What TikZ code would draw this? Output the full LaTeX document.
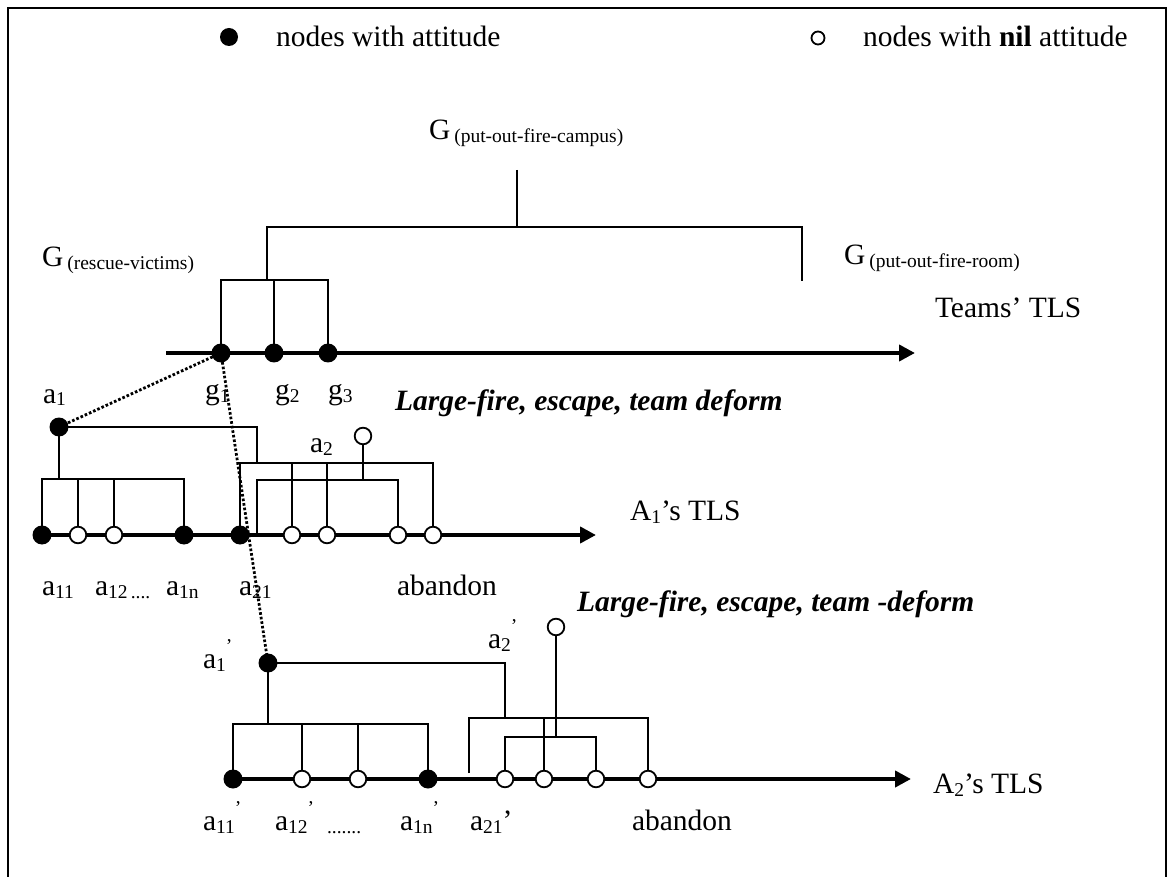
\documentclass[tikz,border=0pt]{standalone}
\usepackage{fontspec}
\setmainfont{Liberation Serif}
\usetikzlibrary{arrows.meta}
\pgfdeclarelayer{bg}
\pgfsetlayers{bg,main}
\newcommand\Sb[1]{\raisebox{-1.5pt}{\fontsize{9.75}{10}\selectfont #1}}
\newcommand\Sp[1]{\raisebox{8pt}{\fontsize{9.75}{10}\selectfont #1}}
\begin{document}
\begin{tikzpicture}[x=0.5pt,y=-0.5pt,font=\fontsize{14.75}{17}\selectfont,
  lbl/.style={anchor=base west,inner sep=0pt,outer sep=0pt},
  fdot/.style={circle,fill=black,inner sep=0pt,minimum size=9.5pt},
  odot/.style={circle,draw=black,fill=white,line width=0.9pt,inner sep=0pt,minimum size=8.3pt},
  tline/.style={line width=0.8pt},
  axis/.style={line width=2pt,-{Triangle[length=8pt,width=8pt]}},
  dotl/.style={line width=1.4pt,dash pattern=on 1.3pt off 1pt},
  emph/.style={lbl,font=\fontsize{14.75}{17}\selectfont\bfseries\itshape}]
\useasboundingbox (0,0) rectangle (1168,877);
\draw[line width=1pt] (8,880) -- (8,8) -- (1166,8) -- (1166,880);

% legend
\node[fdot,minimum size=9pt] (legf) at (229,37) {};
\node[lbl] (legft) at (276,47) {nodes with attitude};
\node[odot,minimum size=6.5pt] (lego) at (818,38) {};
\node[lbl] (legot) at (863,47) {nodes with \textbf{nil} attitude};

% ---------------- Teams' TLS
\node[lbl] (Gc) at (429,140) {G\hspace{2pt}\Sb{(put-out-fire-campus)}};
\node[lbl] (Gr) at (42,267) {G\hspace{2pt}\Sb{(rescue-victims)}};
\node[lbl] (Gf) at (844,265) {G\hspace{2pt}\Sb{(put-out-fire-room)}};
\node[lbl] (teams) at (935,318) {Teams’ TLS};
\coordinate (t0) at (166,353);
\coordinate (t1) at (915,353);
\node[fdot] (g1) at (221,353) {};
\node[fdot] (g2) at (274,353) {};
\node[fdot] (g3) at (328,353) {};
\node[lbl] (g1l) at (205,400) {g\Sb{1}};
\node[lbl] (g2l) at (275,400) {g\Sb{2}};
\node[lbl] (g3l) at (328,400) {g\Sb{3}};
\coordinate (ctop) at (517,170);
\coordinate (cbar) at (517,227);

% ---------------- A1's TLS
\node[emph] (lf1) at (395,410) {Large-fire, escape, team deform};
\node[fdot] (a1) at (59,427) {};
\node[lbl] (a1l) at (43,403) {a\Sb{1}};
\node[odot] (a2) at (363,436) {};
\node[lbl] (a2l) at (310,452) {a\Sb{2}};
\node[lbl] (A1tls) at (630,520) {A\Sb{1}’s TLS};
\coordinate (u0) at (42,535);
\coordinate (u1) at (596,535);
\node[fdot] (a11) at (42,535) {};
\node[odot] (b1) at (78,535) {};
\node[odot] (b2) at (114,535) {};
\node[fdot] (a1n) at (184,535) {};
\node[fdot] (a21) at (240,535) {};
\node[odot] (b3) at (292,535) {};
\node[odot] (b4) at (327,535) {};
\node[odot] (b5) at (398,535) {};
\node[odot] (b6) at (433,535) {};
\node[lbl] (l11) at (42,595) {a\Sb{11}};
\node[lbl] (l12) at (95,595) {a\Sb{12\,....}};
\node[lbl] (l1n) at (166,595) {a\Sb{1n}};
\node[lbl] (l21) at (239,595) {a\Sb{21}};
\node[lbl] (lab1) at (397,595) {abandon};

% ---------------- A2's TLS
\node[emph] (lf2) at (577,611) {Large-fire, escape, team -deform};
\node[fdot] (a1p) at (268,663) {};
\node[lbl] (a1pl) at (203,668) {a\Sb{1}\Sp{’}};
\node[odot] (a2p) at (556,627) {};
\node[lbl] (a2pl) at (488,648) {a\Sb{2}\Sp{’}};
\node[lbl] (A2tls) at (933,793) {A\Sb{2}’s TLS};
\coordinate (v0) at (231,779);
\coordinate (v1) at (911,779);
\node[fdot] (c1) at (233,779) {};
\node[odot] (c2) at (302,779) {};
\node[odot] (c3) at (358,779) {};
\node[fdot] (c4) at (428,779) {};
\node[odot] (c5) at (505,779) {};
\node[odot] (c6) at (544,779) {};
\node[odot] (c7) at (596,779) {};
\node[odot] (c8) at (648,779) {};
\coordinate (stub) at (469,773);
\node[lbl] (m11) at (203,830) {a\Sb{11}\Sp{’}};
\node[lbl] (m12) at (275,830) {a\Sb{12}\Sp{’}};
\node[lbl] (mdots) at (327,830) {\Sb{.......}};
\node[lbl] (m1n) at (400,830) {a\Sb{1n}\Sp{’}};
\node[lbl] (m21) at (470,830) {a\Sb{21}’};
\node[lbl] (lab2) at (632,830) {abandon};

\begin{pgfonlayer}{bg}
  % Teams
  \draw[axis] (t0) -- (t1);
  \draw[tline] (ctop) -- (cbar);
  \draw[tline] (267,280) -- (267,227) -- (802,227) -- (802,281);
  \draw[tline] (g1.center) -- (221,280) -- (328,280) -- (g3.center);
  \draw[tline] (g2.center) -- (274,280);
  % A1
  \draw[axis] (u0) -- (u1);
  \draw[tline] (a1.center) -- (257,427) -- (257,463);
  \draw[tline] (a1.center) -- (59,479);
  \draw[tline] (a11.center) -- (42,479) -- (184,479) -- (a1n.center);
  \draw[tline] (b1) -- (78,479);
  \draw[tline] (b2) -- (114,479);
  \draw[tline] (a21.center) -- (240,463) -- (433,463) -- (b6);
  \draw[tline] (b3) -- (292,463);
  \draw[tline] (b4) -- (327,463);
  \draw[tline] (257,535) -- (257,480) -- (398,480) -- (b5);
  \draw[tline] (a2) -- (363,480);
  % A2
  \draw[axis] (v0) -- (v1);
  \draw[tline] (a1p.center) -- (505,663) -- (505,718);
  \draw[tline] (stub) -- (469,718) -- (648,718) -- (c8);
  \draw[tline] (c6) -- (544,718);
  \draw[tline] (a2p) -- (556,737);
  \draw[tline] (c5) -- (505,737) -- (596,737) -- (c7);
  \draw[tline] (a1p.center) -- (268,724);
  \draw[tline] (c1.center) -- (233,724) -- (428,724) -- (c4.center);
  \draw[tline] (c2) -- (302,724);
  \draw[tline] (c3) -- (358,724);
\end{pgfonlayer}

% dotted links
\draw[dotl] (g1.center) -- (a1.center);
\draw[dotl] (g1.center) -- (a1p.center);
\end{tikzpicture}
\end{document}
